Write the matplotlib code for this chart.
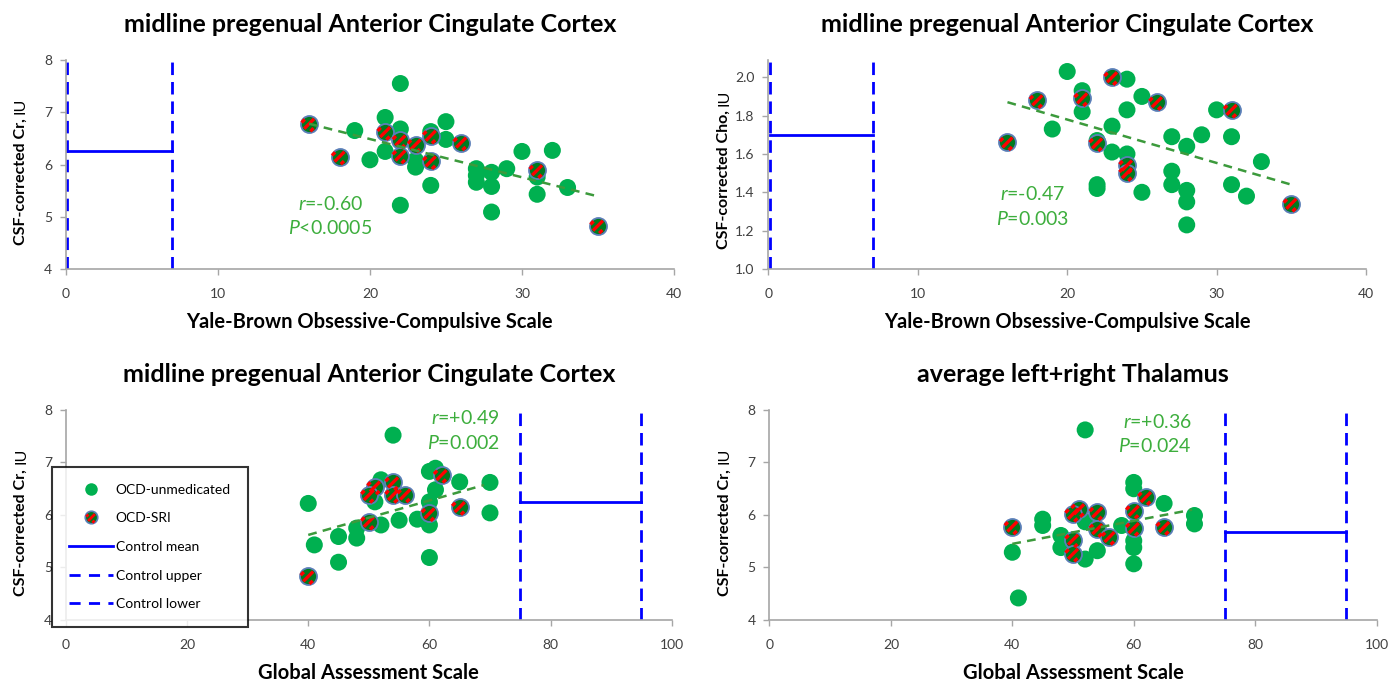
import numpy as np
import matplotlib
matplotlib.use("Agg")
import matplotlib.pyplot as plt
from matplotlib.path import Path
from matplotlib.lines import Line2D
from matplotlib.legend_handler import HandlerTuple

plt.rcParams['font.family'] = ['Lato', 'DejaVu Sans']
plt.rcParams['mathtext.fontset'] = 'custom'
plt.rcParams['mathtext.rm'] = 'Lato'
plt.rcParams['mathtext.it'] = 'Lato:italic'

# ---- data ----
# panel A: Y-BOCS vs Cr (mpgACC)
a_unmed_x = [22, 21, 19, 22, 24, 25, 25, 20, 21, 23, 23, 24, 22, 27, 27, 27, 28, 28, 28, 29, 30, 32, 31, 31, 33]
a_unmed_y = [7.55, 6.9, 6.65, 6.68, 6.63, 6.82, 6.48, 6.09, 6.25, 6.08, 5.95, 5.6, 5.22, 5.92, 5.79, 5.66,
             5.85, 5.58, 5.09, 5.92, 6.25, 6.27, 5.76, 5.43, 5.56]
a_sri_x = [16, 21, 22, 23, 24, 26, 18, 22, 24, 31, 35]
a_sri_y = [6.78, 6.62, 6.46, 6.38, 6.55, 6.42, 6.15, 6.17, 6.06, 5.89, 4.83]
a_fit_x = [16, 35]
a_fit_y = [6.78, 5.39]
a_ctrl_lo, a_ctrl_hi, a_ctrl_mean = 0.1, 7.0, 6.26

# panel B: Y-BOCS vs Cho (mpgACC)
b_unmed_x = [20, 24, 21, 21, 25, 24, 30, 19, 23, 22, 23, 24, 27, 28, 29, 31, 33, 27, 27, 22, 22, 25,
             28, 28, 28, 31, 32]
b_unmed_y = [2.03, 1.99, 1.93, 1.82, 1.90, 1.83, 1.83, 1.73, 1.745, 1.67, 1.61, 1.60, 1.69, 1.64, 1.70,
             1.69, 1.56, 1.51, 1.44, 1.44, 1.42, 1.40, 1.41, 1.35, 1.23, 1.44, 1.38]
b_sri_x = [23, 21, 18, 26, 31, 16, 22, 24, 24, 35]
b_sri_y = [2.0, 1.89, 1.88, 1.87, 1.83, 1.66, 1.655, 1.54, 1.50, 1.34]
b_fit_x = [16, 35]
b_fit_y = [1.87, 1.44]
b_ctrl_lo, b_ctrl_hi, b_ctrl_mean = 0.1, 7.0, 1.70

# panel C: GAS vs Cr (mpgACC)
c_unmed_x = [40, 41, 45, 45, 48, 48, 51, 51, 52, 52, 54, 54, 55, 58, 60, 61, 61, 60, 60, 60, 65, 70, 70]
c_unmed_y = [6.22, 5.43, 5.59, 5.1, 5.75, 5.56, 6.51, 6.25, 6.67, 5.81, 7.52, 6.38, 5.9, 5.92, 6.83, 6.89,
             6.48, 6.25, 5.81, 5.19, 6.63, 6.62, 6.04]
c_sri_x = [40, 51, 50, 50, 54, 54, 56, 60, 62, 65]
c_sri_y = [4.83, 6.54, 6.38, 5.87, 6.62, 6.38, 6.39, 6.03, 6.76, 6.15]
c_fit_x = [40, 69]
c_fit_y = [5.62, 6.57]
c_ctrl_lo, c_ctrl_hi, c_ctrl_mean = 75, 95, 6.24

# panel D: GAS vs Cr (thalamus)
d_unmed_x = [40, 41, 45, 45, 48, 48, 52, 52, 52, 54, 58, 60, 60, 60, 60, 60, 65, 70, 70]
d_unmed_y = [5.29, 4.42, 5.92, 5.80, 5.61, 5.38, 5.87, 7.62, 5.16, 5.32, 5.80, 6.62, 6.50, 5.51, 5.38,
             5.07, 6.22, 5.99, 5.83]
d_sri_x = [40, 51, 50, 50, 50, 54, 54, 56, 60, 60, 62, 65]
d_sri_y = [5.78, 6.11, 6.02, 5.53, 5.26, 6.05, 5.73, 5.58, 6.08, 5.75, 6.34, 5.77]
d_fit_x = [40, 69.6]
d_fit_y = [5.45, 6.10]
d_ctrl_lo, d_ctrl_hi, d_ctrl_mean = 75, 95, 5.68

GREEN = '#00B050'
DKGREEN = '#007A1E'
FITGREEN = '#3C9A3C'
TXTGREEN = '#3DAE3D'
BLUE = '#0000FF'
RING = '#5B7FB8'
SPINE = '#A6A6A6'
TICK = '#404040'

# marker: one red stripe across the circle (plus small corner pieces)
def stripe_marker():
    verts = [(-1, -1), (1, 1),           # invisible, fixes the scale
             (-0.62, -0.62), (0.62, 0.62),
             (-0.95, 0.15), (-0.55, 0.55),
             (0.15, -0.95), (0.55, -0.55)]
    codes = [Path.MOVETO, Path.MOVETO,
             Path.MOVETO, Path.LINETO,
             Path.MOVETO, Path.LINETO,
             Path.MOVETO, Path.LINETO]
    return Path(verts, codes)

STRIPE = stripe_marker()
S = 150

fig = plt.figure(figsize=(14, 6.85), dpi=100)
positions = [
    [0.0471, 0.6073, 0.4343, 0.3051],
    [0.5489, 0.6073, 0.4268, 0.3051],
    [0.0471, 0.0949, 0.4327, 0.3066],
    [0.5496, 0.0949, 0.4337, 0.3066],
]

panels = [
    dict(ux=a_unmed_x, uy=a_unmed_y, sx=a_sri_x, sy=a_sri_y, fx=a_fit_x, fy=a_fit_y,
         lo=a_ctrl_lo, hi=a_ctrl_hi, mean=a_ctrl_mean,
         xlim=(0, 40), xticks=[0, 10, 20, 30, 40], ylim=(4, 8), yticks=[4, 5, 6, 7, 8], yfmt='{:.0f}',
         title='midline pregenual Anterior Cingulate Cortex',
         xlabel='Yale-Brown Obsessive-Compulsive Scale', ybold='CSF-corrected Cr,', ysplit=0.72,
         r='-0.60', p='<0.0005', txy=(17.4, 5.25), tha='center'),
    dict(ux=b_unmed_x, uy=b_unmed_y, sx=b_sri_x, sy=b_sri_y, fx=b_fit_x, fy=b_fit_y,
         lo=b_ctrl_lo, hi=b_ctrl_hi, mean=b_ctrl_mean,
         xlim=(0, 40), xticks=[0, 10, 20, 30, 40], ylim=(1.0, 2.09),
         yticks=[1.0, 1.2, 1.4, 1.6, 1.8, 2.0], yfmt='{:.1f}',
         title='midline pregenual Anterior Cingulate Cortex',
         xlabel='Yale-Brown Obsessive-Compulsive Scale', ybold='CSF-corrected Cho,', ysplit=0.76,
         r='-0.47', p='=0.003', txy=(17.7, 1.39), tha='center'),
    dict(ux=c_unmed_x, uy=c_unmed_y, sx=c_sri_x, sy=c_sri_y, fx=c_fit_x, fy=c_fit_y,
         lo=c_ctrl_lo, hi=c_ctrl_hi, mean=c_ctrl_mean,
         xlim=(0, 100), xticks=[0, 20, 40, 60, 80, 100], ylim=(4, 8), yticks=[4, 5, 6, 7, 8], yfmt='{:.0f}',
         title='midline pregenual Anterior Cingulate Cortex',
         xlabel='Global Assessment Scale', ybold='CSF-corrected Cr,', ysplit=0.72,
         r='+0.49', p='=0.002', txy=(71.6, 7.84), tha='right'),
    dict(ux=d_unmed_x, uy=d_unmed_y, sx=d_sri_x, sy=d_sri_y, fx=d_fit_x, fy=d_fit_y,
         lo=d_ctrl_lo, hi=d_ctrl_hi, mean=d_ctrl_mean,
         xlim=(0, 100), xticks=[0, 20, 40, 60, 80, 100], ylim=(4, 8), yticks=[4, 5, 6, 7, 8], yfmt='{:.0f}',
         title='average left+right Thalamus',
         xlabel='Global Assessment Scale', ybold='CSF-corrected Cr,', ysplit=0.72,
         r='+0.36', p='=0.024', txy=(69.6, 7.78), tha='right'),
]

axes = []
for pos, pn in zip(positions, panels):
    ax = fig.add_axes(pos)
    axes.append(ax)
    ax.set_xlim(*pn['xlim'])
    ax.set_ylim(*pn['ylim'])

    # control range + mean
    ax.axvline(pn['lo'], color=BLUE, lw=2, ls=(0, (4.5, 2.5)), zorder=2)
    ax.axvline(pn['hi'], color=BLUE, lw=2, ls=(0, (4.5, 2.5)), zorder=2)
    ax.plot([pn['lo'], pn['hi']], [pn['mean'], pn['mean']], color=BLUE, lw=2, zorder=2)

    # unmedicated patients
    ax.scatter(pn['ux'], pn['uy'], s=S, color=GREEN, edgecolors='none', zorder=3)
    # SRI-treated patients
    ax.scatter(pn['sx'], pn['sy'], s=S, facecolor=DKGREEN, edgecolors=RING, linewidths=1.3, zorder=4)
    ax.scatter(pn['sx'], pn['sy'], s=S * 0.88, marker=STRIPE, facecolor='none',
               edgecolors='#FF0000', linewidths=2.4, zorder=5)

    # regression line
    ax.plot(pn['fx'], pn['fy'], color=FITGREEN, lw=1.8, ls=(0, (3.5, 2.5)), zorder=6)

    ax.text(pn['txy'][0], pn['txy'][1], r'$\mathit{r}$=' + pn['r'], color=TXTGREEN,
            fontsize=14, ha=pn['tha'], va='center', zorder=7)
    dy = (pn['ylim'][1] - pn['ylim'][0]) * 0.118
    ax.text(pn['txy'][0], pn['txy'][1] - dy, r'$\mathit{P}$' + pn['p'], color=TXTGREEN,
            fontsize=14, ha=pn['tha'], va='center', zorder=7)

    ax.set_xticks(pn['xticks'])
    ax.set_yticks(pn['yticks'])
    ax.set_yticklabels([pn['yfmt'].format(v) for v in pn['yticks']])
    for side in ['top', 'right']:
        ax.spines[side].set_visible(False)
    for side in ['left', 'bottom']:
        ax.spines[side].set_color(SPINE)
        ax.spines[side].set_linewidth(1.2)
    ax.tick_params(direction='out', length=4, width=1, color=SPINE, labelcolor=TICK,
                   labelsize=10)
    ax.tick_params(axis='x', pad=10)
    ax.tick_params(axis='y', pad=6)

    ax.set_title(pn['title'], fontsize=18, fontweight='bold', pad=20)
    ax.set_xlabel(pn['xlabel'], fontsize=14.5, fontweight='bold', labelpad=8)

    # y label: bold part + regular "IU"
    ax.text(-0.074, pn['ysplit'], pn['ybold'], transform=ax.transAxes, rotation=90,
            rotation_mode='anchor', ha='right', va='center', fontsize=11.5, fontweight='bold')
    ax.text(-0.074, pn['ysplit'] + 0.022, 'IU', transform=ax.transAxes, rotation=90,
            rotation_mode='anchor', ha='left', va='center', fontsize=11.5)

# legend in panel C
h_unmed = Line2D([], [], ls='none', marker='o', ms=9, color=GREEN, mec='none')
h_sri_a = Line2D([], [], ls='none', marker='o', ms=9, mfc=DKGREEN, mec=RING, mew=1.2)
h_sri_b = Line2D([], [], ls='none', marker=STRIPE, ms=8, mfc='none', mec='#FF0000', mew=2)
h_mean = Line2D([], [], color=BLUE, lw=2)
h_up = Line2D([], [], color=BLUE, lw=2, ls=(0, (4, 3)))
h_lo = Line2D([], [], color=BLUE, lw=2, ls=(0, (4, 3)))
leg = axes[2].legend([h_unmed, (h_sri_a, h_sri_b), h_mean, h_up, h_lo],
                     ['OCD-unmedicated', 'OCD-SRI', 'Control mean', 'Control upper', 'Control lower'],
                     handler_map={tuple: HandlerTuple(ndivide=1, pad=0)},
                     loc='lower left', bbox_to_anchor=(0.0371, 0.0847), bbox_transform=fig.transFigure,
                     frameon=True, fancybox=False, edgecolor='black', fontsize=10,
                     handlelength=3.2, handletextpad=0.2, labelspacing=1.2, borderpad=1.2,
                     borderaxespad=0)
leg.get_frame().set_linewidth(1.5)
leg.set_zorder(10)

fig.savefig('out.png', dpi=100)
